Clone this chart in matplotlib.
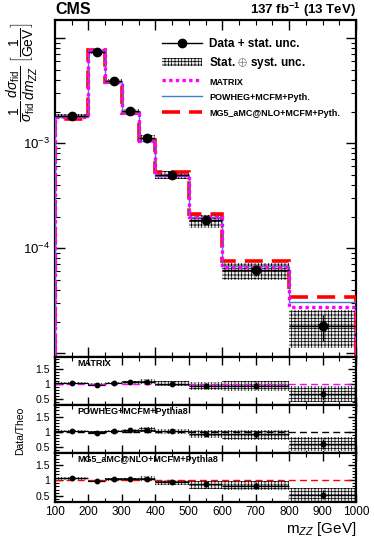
import numpy as np
import matplotlib
matplotlib.use("Agg")
import matplotlib.pyplot as plt
from matplotlib.ticker import FixedLocator, FixedFormatter, MultipleLocator, LogLocator, NullFormatter
from matplotlib.lines import Line2D
from matplotlib.patches import Patch

plt.rcParams['font.family'] = ['Liberation Sans', 'DejaVu Sans']
plt.rcParams['mathtext.fontset'] = 'custom'
plt.rcParams['mathtext.rm'] = 'Liberation Sans'
plt.rcParams['mathtext.it'] = 'Liberation Sans:italic'
plt.rcParams['mathtext.bf'] = 'Liberation Sans:bold'
plt.rcParams['hatch.linewidth'] = 0.5

# ---------------- data ----------------
bin_edges = [100, 200, 250, 300, 350, 400, 500, 600, 800, 1000]
data_vals = [1.81e-3, 7.41e-3, 3.90e-3, 2.02e-3, 1.12e-3, 4.96e-4, 1.85e-4, 6.2e-5, 1.81e-5]
data_stat_rel = [0.02, 0.015, 0.02, 0.03, 0.04, 0.05, 0.08, 0.12, 0.28]
syst_up_rel = [0.04, 0.04, 0.04, 0.05, 0.08, 0.09, 0.13, 0.16, 0.42]
syst_dn_rel = [0.04, 0.04, 0.04, 0.05, 0.08, 0.09, 0.16, 0.19, 0.38]
matrix_vals = [1.775e-3, 7.64e-3, 3.79e-3, 1.92e-3, 1.05e-3, 4.96e-4, 1.97e-4, 6.67e-5, 2.74e-5]
powheg_vals = [1.775e-3, 7.64e-3, 3.79e-3, 1.92e-3, 1.057e-3, 4.91e-4, 1.99e-4, 6.8e-5, 3.1e-5]
mg5_vals = [1.71e-3, 7.64e-3, 3.79e-3, 1.96e-3, 1.067e-3, 5.28e-4, 2.13e-4, 7.47e-5, 3.42e-5]
xtick_vals = [100, 200, 300, 400, 500, 600, 700, 800, 900, 1000]
ratio_names = ["MATRIX", "POWHEG+MCFM+Pythia8", "MG5_aMC@NLO+MCFM+Pythia8"]
legend_labels = ["Data + stat. unc.", "Stat. $\\oplus$ syst. unc.", "MATRIX",
                 "POWHEG+MCFM+Pyth.", "MG5_aMC@NLO+MCFM+Pyth."]

edges = np.array(bin_edges, float)
centers = 0.5 * (edges[:-1] + edges[1:])
halfw = 0.5 * (edges[1:] - edges[:-1])
data = np.array(data_vals)
stat = data * np.array(data_stat_rel)
sup = np.array(syst_up_rel)
sdn = np.array(syst_dn_rel)

C_MAT = '#ff00ff'
C_POW = '#3f7fc4'
C_MG5 = '#ff0000'
HATCH = '+++++'

W, H = 374, 542
fig = plt.figure(figsize=(W / 100, H / 100), dpi=100)

def fr(x0, y0, x1, y1):
    return [x0 / W, 1 - y1 / H, (x1 - x0) / W, (y1 - y0) / H]

L, R = 55, 356
ax = fig.add_axes(fr(L, 20, R, 357))
rax = [fig.add_axes(fr(L, 357, R, 405)),
       fig.add_axes(fr(L, 405, R, 453)),
       fig.add_axes(fr(L, 453, R, 502))]

def band(a, lo, hi, z=2):
    for i in range(len(centers)):
        a.fill_between([edges[i], edges[i + 1]], [lo[i]] * 2, [hi[i]] * 2,
                       facecolor='#e8e8e8', edgecolor='black', hatch=HATCH,
                       linewidth=0, zorder=z)

# main panel
band(ax, data * (1 - sdn), data * (1 + sup))
base = 1e-7
ax.stairs(mg5_vals, edges, baseline=base, color=C_MG5, lw=2.6, ls=(0, (5, 2.5)), zorder=3)
ax.stairs(powheg_vals, edges, baseline=base, color=C_POW, lw=1.0, zorder=4)
ax.stairs(matrix_vals, edges, baseline=base, color=C_MAT, lw=2.4, ls=(0, (1, 1)), zorder=5)
ax.errorbar(centers, data, yerr=stat, xerr=halfw, fmt='o', color='black', ms=6,
            elinewidth=1.0, capsize=0, zorder=6)
ax.set_yscale('log')
ax.set_xlim(100, 1000)
ax.set_ylim(9.2e-6, 0.0149)
ax.yaxis.set_major_locator(FixedLocator([1e-5, 1e-4, 1e-3, 1e-2]))
ax.yaxis.set_major_formatter(FixedFormatter(['', '$10^{-4}$', '$10^{-3}$', '']))
ax.yaxis.set_minor_locator(LogLocator(base=10, subs=np.arange(2, 10), numticks=20))
ax.yaxis.set_minor_formatter(NullFormatter())
ax.xaxis.set_major_locator(MultipleLocator(200))
ax.xaxis.set_minor_locator(MultipleLocator(50))
ax.tick_params(axis='x', labelbottom=False)

for a in [ax] + rax:
    a.tick_params(which='both', direction='in', top=True, right=True)
    a.tick_params(which='major', length=7, width=1.0, labelsize=9.5)
    a.tick_params(which='minor', length=3.5, width=0.8)
    for s in a.spines.values():
        s.set_linewidth(1.6)

# legend
handles = [
    Line2D([], [], color='black', marker='o', ms=6, lw=1.0),
    Patch(facecolor='#e8e8e8', edgecolor='black', hatch=HATCH, linewidth=0),
    Line2D([], [], color=C_MAT, lw=2.4, ls=(0, (1, 1))),
    Line2D([], [], color=C_POW, lw=1.0),
    Line2D([], [], color=C_MG5, lw=2.6, ls=(0, (5, 2.5))),
]
leg = ax.legend(handles, legend_labels, loc='upper left',
                bbox_to_anchor=(157 / W, 1 - 33 / H), bbox_transform=fig.transFigure,
                frameon=False, fontsize=8.5, handlelength=3.4, handletextpad=0.6,
                labelspacing=0.45, borderaxespad=0)
for i, t in enumerate(leg.get_texts()):
    t.set_fontweight('bold')
    if i >= 2:
        t.set_fontsize(6.5)

# ratio panels
theos = [np.array(matrix_vals), np.array(powheg_vals), np.array(mg5_vals)]
lcols = [C_MAT, 'black', C_MG5]
for k, a in enumerate(rax):
    r = data / theos[k]
    band(a, r * (1 - sdn), r * (1 + sup))
    a.axhline(1.0, color=lcols[k], lw=1.0, ls=(0, (5, 3)), zorder=2.5)
    a.errorbar(centers, r, yerr=r * np.array(data_stat_rel), xerr=halfw, fmt='o',
               color='black', ms=3.2, elinewidth=0.9, capsize=0, zorder=6)
    a.set_xlim(100, 1000)
    a.set_ylim(0.3, 1.88)
    a.yaxis.set_major_locator(FixedLocator([0.5, 1.0, 1.5]))
    a.yaxis.set_major_formatter(FixedFormatter(['0.5', '1', '1.5']))
    a.yaxis.set_minor_locator(MultipleLocator(0.1))
    a.xaxis.set_major_locator(FixedLocator(xtick_vals))
    a.xaxis.set_minor_locator(MultipleLocator(50))
    a.tick_params(which='major', labelsize=7.5, length=6)
    a.tick_params(which='minor', length=3)
    a.text(77 / W, 1 - (364 + 48 * k) / H, ratio_names[k], transform=fig.transFigure,
           fontsize=6.5, fontweight='bold', va='center', ha='left', zorder=10)
    if k < 2:
        a.tick_params(axis='x', labelbottom=False)
rax[2].tick_params(axis='x', labelsize=8.5, pad=3)

fig.text(20 / W, 1 - 431 / H, 'Data/Theo', rotation=90, ha='center', va='center', fontsize=7.5)
fig.text(R / W, 1 - 529 / H, 'm$_{ZZ}$ [GeV]', ha='right', va='center', fontsize=11)
fig.text(L / W, 1 - 10 / H, 'CMS', ha='left', va='center', fontsize=11.5, fontweight='bold')
fig.text(R / W, 1 - 10 / H, '137 fb$^{\\mathbf{-1}}$ (13 TeV)', ha='right', va='center',
         fontsize=9.5, fontweight='bold')
fig.text(22 / W, 1 - 72 / H,
         r'$\dfrac{1}{\sigma_{\mathrm{fid}}}\,\dfrac{d\sigma_{\mathrm{fid}}}{dm_{ZZ}}\;\left[\dfrac{1}{\mathrm{GeV}}\right]$',
         rotation=90, ha='center', va='center', fontsize=10)

fig.savefig('out.png', dpi=100)
